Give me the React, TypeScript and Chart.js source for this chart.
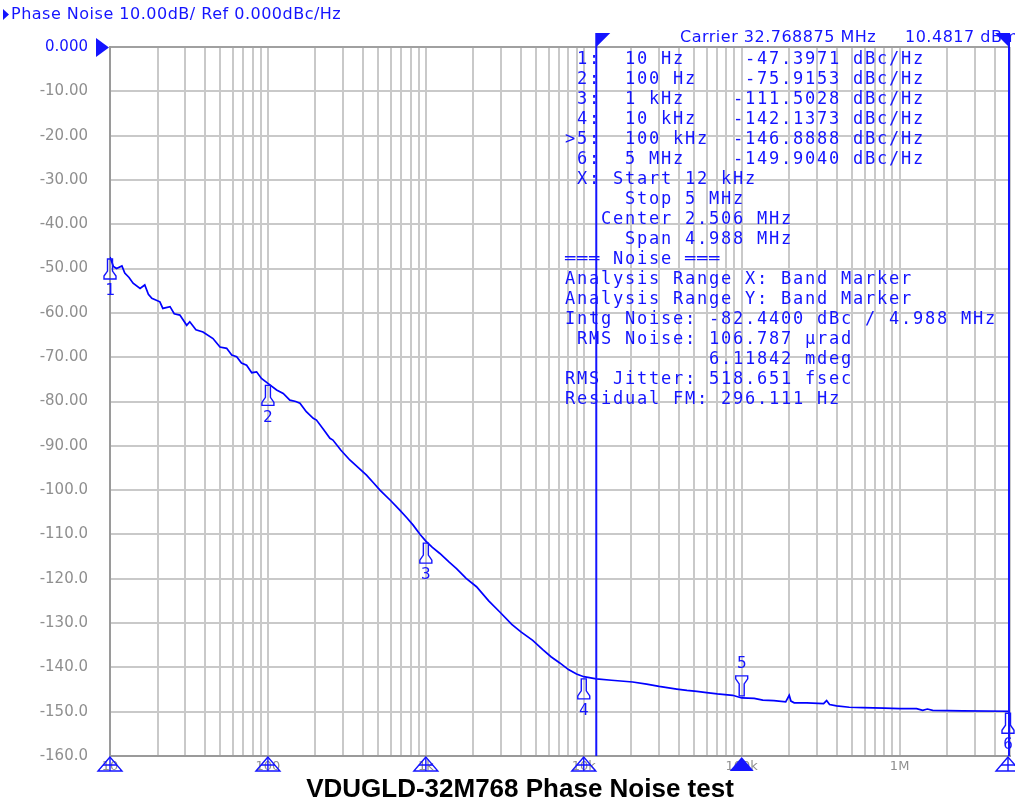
import React, { useEffect, useRef } from "react";
import { Chart, registerables } from "chart.js";

Chart.register(...registerables);

// ---- data ----
const freqHz: number[] = [
  10, 10.5, 11.0, 11.9, 12.4, 13.2, 14.0, 15.5, 16.6, 17.5, 18.4, 20.7, 21.6, 24.0, 25.5, 27.7,
  30.6, 32.0, 35.0, 38.8, 44.9, 49.7, 54.8, 59.0, 63.4, 68.0, 73.3, 79.0, 84.8, 91.0, 100,
  113.5, 125, 137.7, 150, 159.5, 175, 193.6, 203, 225, 247, 258, 290, 330, 375, 421, 470, 512,
  600, 684, 760, 831, 920, 1000, 1100, 1227, 1400, 1564, 1800, 2093, 2500, 2940, 3500, 4000,
  4750, 5500, 6200, 7050, 8000, 9000, 10000, 12000, 15000, 20400, 25000, 30000, 38800, 45000,
  52000, 60000, 70000, 87700, 100000, 120000, 136000, 160000, 190000, 200000, 205000, 215000,
  258000, 330000, 345000, 360000, 399000, 480000, 583000, 800000, 1000000, 1280000, 1400000,
  1500000, 1620000, 2500000, 5000000,
];
const noiseDbc: number[] = [
  -47.4, -49.5, -50.0, -49.4, -51.0, -52.0, -53.3, -54.5, -53.7, -55.8, -56.7, -57.5, -59.0, -58.6, -60.2, -60.5,
  -62.8, -62.0, -63.8, -64.3, -65.8, -67.7, -68.0, -69.5, -69.9, -71.3, -71.8, -73.5, -73.3, -74.8, -75.9,
  -77.4, -78.2, -79.7, -80.0, -80.4, -82.3, -83.8, -84.2, -86.3, -88.3, -88.7, -91.0, -93.2, -95.0, -96.6, -98.5, -100.0,
  -102.4, -104.5, -106.3, -107.9, -110.0, -111.5, -112.9, -114.3, -116.2, -117.7, -119.9, -121.8, -125.0, -127.5, -130.3, -132.0,
  -133.9, -136.0, -137.6, -139.0, -140.5, -141.5, -142.1, -142.6, -142.9, -143.3, -143.8, -144.3, -144.9, -145.2,
  -145.4, -145.7, -146.0, -146.3, -146.9, -147.0, -147.4, -147.5, -147.8, -146.3, -147.6, -148.0,
  -148.0, -148.2, -147.5, -148.4, -148.7, -149.0, -149.1, -149.2, -149.3, -149.3, -149.7,
  -149.4, -149.7, -149.8, -149.9,
];

const markerFreq: number[] = [10, 100, 1000, 10000, 100000, 5000000];
const markerValue: number[] = [-47.3971, -75.9153, -111.5028, -142.1373, -146.8888, -149.904];
const activeMarker = 4; // index of marker 5

const bandStartHz = 12000;
const bandStopHz = 5000000;

const yTicks: number[] = [0, -10, -20, -30, -40, -50, -60, -70, -80, -90, -100, -110, -120, -130, -140, -150, -160];
const yTickLabels: string[] = [
  "0.000", "-10.00", "-20.00", "-30.00", "-40.00", "-50.00", "-60.00", "-70.00", "-80.00", "-90.00",
  "-100.0", "-110.0", "-120.0", "-130.0", "-140.0", "-150.0", "-160.0",
];
const xDecades: number[] = [10, 100, 1000, 10000, 100000, 1000000];
const xDecadeLabels: string[] = ["10", "100", "1k", "10k", "100k", "1M"];

const headerText = "Phase Noise 10.00dB/ Ref 0.000dBc/Hz";
const carrierText = "Carrier 32.768875 MHz";
const carrierLevel = "10.4817 dBm";
const titleText = "VDUGLD-32M768 Phase Noise test";

const infoLines: string[] = [
  " 1:  10 Hz     -47.3971 dBc/Hz",
  " 2:  100 Hz    -75.9153 dBc/Hz",
  " 3:  1 kHz    -111.5028 dBc/Hz",
  " 4:  10 kHz   -142.1373 dBc/Hz",
  ">5:  100 kHz  -146.8888 dBc/Hz",
  " 6:  5 MHz    -149.9040 dBc/Hz",
  " X: Start 12 kHz",
  "     Stop 5 MHz",
  "   Center 2.506 MHz",
  "     Span 4.988 MHz",
  "═══ Noise ═══",
  "Analysis Range X: Band Marker",
  "Analysis Range Y: Band Marker",
  "Intg Noise: -82.4400 dBc / 4.988 MHz",
  " RMS Noise: 106.787 µrad",
  "            6.11842 mdeg",
  "RMS Jitter: 518.651 fsec",
  "Residual FM: 296.111 Hz",
];

const BLUE = "#1414ff";
const GREY = "#8f8f8f";
const GRID = "#c9c9c9";

function buildXTicks(): { value: number }[] {
  const out: { value: number }[] = [];
  for (let d = 10; d <= 1000000; d *= 10) {
    for (let m = 1; m <= 9; m++) {
      const v = d * m;
      if (v <= 5000000) out.push({ value: v });
    }
  }
  return out;
}

const overlayPlugin = {
  id: "overlay",
  afterDraw(chart: any) {
    const ctx: any = chart.ctx;
    const xs = chart.scales.x;
    const ys = chart.scales.y;
    const area = chart.chartArea;
    ctx.save();

    // header
    ctx.fillStyle = BLUE;
    ctx.beginPath();
    ctx.moveTo(3, 9);
    ctx.lineTo(9, 14.5);
    ctx.lineTo(3, 20);
    ctx.closePath();
    ctx.fill();
    ctx.font = "16px 'DejaVu Sans'";
    ctx.letterSpacing = "0.5px";
    ctx.textBaseline = "middle";
    ctx.textAlign = "left";
    ctx.fillText(headerText, 11, 15);
    ctx.fillText(carrierText, 680, 38);
    ctx.fillText(carrierLevel, 905, 38);
    ctx.letterSpacing = "0px";

    // reference level triangle
    ctx.beginPath();
    ctx.moveTo(96, area.top - 9);
    ctx.lineTo(96, area.top + 10);
    ctx.lineTo(109, area.top + 0.5);
    ctx.closePath();
    ctx.fill();

    // band marker lines
    ctx.strokeStyle = BLUE;
    ctx.lineWidth = 2;
    const bx1 = xs.getPixelForValue(bandStartHz);
    const bx2 = Math.min(xs.getPixelForValue(bandStopHz), area.right - 1);
    for (const bx of [bx1, bx2]) {
      ctx.beginPath();
      ctx.moveTo(bx, area.top - 14);
      ctx.lineTo(bx, area.bottom);
      ctx.stroke();
    }
    ctx.beginPath();
    ctx.moveTo(bx1, area.top - 14);
    ctx.lineTo(bx1 + 14, area.top - 14);
    ctx.lineTo(bx1, area.top);
    ctx.closePath();
    ctx.fill();
    ctx.beginPath();
    ctx.moveTo(bx2, area.top - 14);
    ctx.lineTo(bx2 - 14, area.top - 14);
    ctx.lineTo(bx2, area.top);
    ctx.closePath();
    ctx.fill();

    // info text (monospace grid)
    ctx.font = "17px 'DejaVu Sans Mono'";
    ctx.textBaseline = "middle";
    ctx.textAlign = "left";
    infoLines.forEach((line, r) => {
      const cy = 60 + r * 20;
      for (let i = 0; i < line.length; i++) {
        const ch = line[i];
        if (ch !== " ") ctx.fillText(ch, 565 + i * 12, cy);
      }
    });

    // markers on trace
    ctx.lineWidth = 1.4;
    ctx.font = "16px 'DejaVu Sans Mono'";
    ctx.textAlign = "center";
    markerFreq.forEach((f, i) => {
      const px = Math.min(xs.getPixelForValue(f), area.right - 2);
      const py = ys.getPixelForValue(markerValue[i]);
      const dir = i === activeMarker ? -1 : 1;
      ctx.beginPath();
      ctx.moveTo(px - 2.5, py + dir * 2);
      ctx.lineTo(px - 2.5, py + dir * 14);
      ctx.lineTo(px - 6, py + dir * 19);
      ctx.lineTo(px - 6, py + dir * 22);
      ctx.lineTo(px + 6, py + dir * 22);
      ctx.lineTo(px + 6, py + dir * 19);
      ctx.lineTo(px + 2.5, py + dir * 14);
      ctx.lineTo(px + 2.5, py + dir * 2);
      ctx.closePath();
      ctx.stroke();
      ctx.fillText(String(i + 1), px, py + dir * 34);
    });

    // axis markers at bottom
    markerFreq.forEach((f, i) => {
      const px = Math.min(xs.getPixelForValue(f), area.right - 2);
      const top = area.bottom + 1;
      const bot = area.bottom + 15;
      ctx.beginPath();
      ctx.moveTo(px, top);
      ctx.lineTo(px - 12, bot);
      ctx.lineTo(px + 12, bot);
      ctx.closePath();
      if (i === activeMarker) {
        ctx.fill();
      } else {
        ctx.stroke();
        ctx.beginPath();
        ctx.moveTo(px, top);
        ctx.lineTo(px, bot);
        ctx.moveTo(px - 7, top + 8);
        ctx.lineTo(px + 7, top + 8);
        ctx.stroke();
      }
    });

    // title
    ctx.fillStyle = "#000";
    ctx.font = "bold 26px 'Liberation Sans'";
    ctx.textAlign = "center";
    ctx.textBaseline = "middle";
    ctx.fillText(titleText, 520, 790);

    ctx.restore();
  },
};

export default function App() {
  const ref = useRef<HTMLCanvasElement | null>(null);
  useEffect(() => {
    if (!ref.current) return;
    const chart = new Chart(ref.current, {
      type: "line",
      data: {
        datasets: [
          {
            data: freqHz.map((f, i) => ({ x: f, y: noiseDbc[i] })),
            borderColor: "#0000ff",
            borderWidth: 1.7,
            pointRadius: 0,
            tension: 0,
            fill: false,
          },
        ],
      },
      options: {
        animation: false,
        responsive: false,
        events: [],
        layout: { padding: { left: 0, right: 5, top: 47, bottom: 0 } },
        plugins: { legend: { display: false }, tooltip: { enabled: false }, title: { display: false } },
        scales: {
          x: {
            type: "logarithmic",
            min: 10,
            max: 5000000,
            afterBuildTicks: (scale: any) => {
              scale.ticks = buildXTicks();
            },
            afterFit: (scale: any) => {
              scale.height = 50;
            },
            ticks: {
              autoSkip: false,
              maxRotation: 0,
              padding: 3,
              color: GREY,
              font: { family: "'DejaVu Sans'", size: 13 },
              callback: (v: any) => {
                const idx = xDecades.indexOf(Number(v));
                return idx >= 0 ? xDecadeLabels[idx] : "";
              },
            },
            grid: { color: GRID, lineWidth: 2, drawTicks: false },
            border: { display: true, color: "#9a9a9a", width: 2 },
          },
          y: {
            min: -160,
            max: 0,
            afterBuildTicks: (scale: any) => {
              scale.ticks = yTicks.map((v) => ({ value: v }));
            },
            afterFit: (scale: any) => {
              scale.width = 110;
            },
            ticks: {
              padding: 22,
              color: (c: any) => (c.tick && c.tick.value === 0 ? BLUE : GREY),
              font: { family: "'DejaVu Sans'", size: 15 },
              callback: (v: any) => {
                const idx = yTicks.indexOf(Number(v));
                return idx >= 0 ? yTickLabels[idx] : "";
              },
            },
            grid: {
              color: (c: any) => (c.tick && c.tick.value === 0 ? "#a0a0a0" : GRID),
              lineWidth: 2,
              drawTicks: false,
            },
            border: { display: true, color: "#9a9a9a", width: 2 },
          },
        },
      },
      plugins: [overlayPlugin],
    } as any);
    return () => chart.destroy();
  }, []);
  return (
    <div style={{ position: "absolute", left: 0, top: 0, width: 1015, height: 806, background: "#fff" }}>
      <canvas ref={ref} width={1015} height={806} style={{ display: "block" }} />
    </div>
  );
}
